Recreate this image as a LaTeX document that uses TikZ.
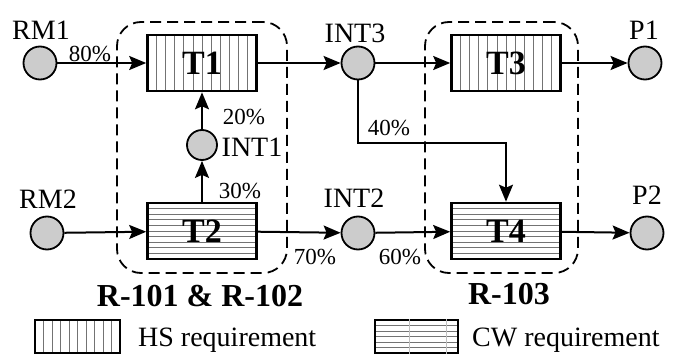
\documentclass[tikz,border=0pt]{standalone}
\usepackage{fontspec}
\setmainfont{Liberation Serif}
\usetikzlibrary{calc,positioning,arrows.meta,shapes}

\begin{document}
\begin{tikzpicture}[x=1pt, y=-1pt,
  vhatch/.style={path picture={\foreach \k in {1,...,#1}{\draw[black!55, line width=0.7pt] ($(path picture bounding box.south west)!\k/(#1+1)!(path picture bounding box.south east)$) -- ($(path picture bounding box.north west)!\k/(#1+1)!(path picture bounding box.north east)$);}}},
  hhatch/.style={path picture={\foreach \k in {1,...,#1}{\draw[black!55, line width=0.7pt] ($(path picture bounding box.south west)!\k/(#1+1)!(path picture bounding box.north west)$) -- ($(path picture bounding box.south east)!\k/(#1+1)!(path picture bounding box.north east)$);}}}]
\tikzstyle{tank}=[draw, line width=2.6pt, minimum width=109pt, minimum height=56pt, inner sep=0pt, font=\fontsize{34}{36}\selectfont\bfseries]
\tikzstyle{hstank}=[tank, vhatch=11]
\tikzstyle{cwtank}=[tank, hhatch=9]
\tikzstyle{state}=[circle, draw, line width=1.8pt, fill=gray!40, minimum size=33pt, inner sep=0pt]
\tikzstyle{lbl}=[inner sep=0pt, font=\fontsize{28}{30}\selectfont]
\tikzstyle{pct}=[inner sep=0pt, font=\fontsize{23}{25}\selectfont]
\tikzstyle{grp}=[draw, dashed, dash pattern=on 11pt off 6pt, line width=1.8pt, rounded corners=24pt, inner sep=0pt]
\tikzstyle{flow}=[line width=2pt, -{Stealth[length=17pt, width=14pt, inset=3pt]}]
\tikzstyle{legbox}=[draw, line width=1.8pt, minimum height=33pt, inner sep=0pt]
\useasboundingbox (0,0) rectangle (673,356);
% reactor groups
\node[grp, minimum width=170pt, minimum height=251pt] (r12) at (202,147.5) {};
\node[grp, minimum width=153pt, minimum height=251pt] (r3) at (501.5,147.5) {};
% tasks
\node[hstank] (t1) at (202,63) {T1};
\node[cwtank] (t2) at (202,231) {T2};
\node[hstank] (t3) at (506,63) {T3};
\node[cwtank] (t4) at (506,231) {T4};
% states
\node[state] (rm1) at (40,63) {};
\node[state] (rm2) at (47,233) {};
\node[state, minimum size=30pt] (int1) at (202,145) {};
\node[state] (int2) at (358,233) {};
\node[state] (int3) at (358,63) {};
\node[state] (p1) at (645,63) {};
\node[state] (p2) at (647,233) {};
\coordinate (split) at (506,143);
\foreach \i/\j in {rm1/t1,t1/int3,int3/t3,t3/p1,rm2/t2,t2/int1,int1/t1,t2/int2,int2/t4,t4/p2}{\draw[flow] (\i) -- (\j);}
\draw[flow] (int3) |- (split) -- (t4);
% labels
\node[lbl] (rm1lbl) at (41,30) {RM1};
\node[lbl] (rm2lbl) at (48,199) {RM2};
\node[lbl] (int1lbl) at (252,147) {INT1};
\node[lbl] (int2lbl) at (354,198) {INT2};
\node[lbl] (int3lbl) at (355,33) {INT3};
\node[lbl] (p1lbl) at (644,30) {P1};
\node[lbl] (p2lbl) at (647,195) {P2};
\node[pct] (f80) at (90,54) {80\%};
\node[pct] (f20) at (244,117) {20\%};
\node[pct] (f30) at (240,191) {30\%};
\node[pct] (f70) at (315,257) {70\%};
\node[pct] (f60) at (400,257) {60\%};
\node[pct] (f40) at (389,128) {40\%};
\node[inner sep=0pt, font=\fontsize{32}{34}\selectfont\bfseries] (r12lbl) at (200,296) {R-101 \& R-102};
\node[inner sep=0pt, font=\fontsize{32}{34}\selectfont\bfseries] (r3lbl) at (509,294) {R-103};
% legend
\node[legbox, minimum width=85pt, vhatch=9] (hsleg) at (77.5,336.5) {};
\node[legbox, minimum width=83pt, hhatch=5] (cwleg) at (416.5,336.5) {};
\foreach \f in {0.42,0.85}{\draw[black!25, line width=0.6pt] ($(cwleg.north west)!\f!(cwleg.north east)$) -- ($(cwleg.south west)!\f!(cwleg.south east)$);}
\node[lbl, anchor=base west] (hstxt) at (138,346) {HS requirement};
\node[lbl, anchor=base west] (cwtxt) at (472,346) {CW requirement};
\end{tikzpicture}
\end{document}
